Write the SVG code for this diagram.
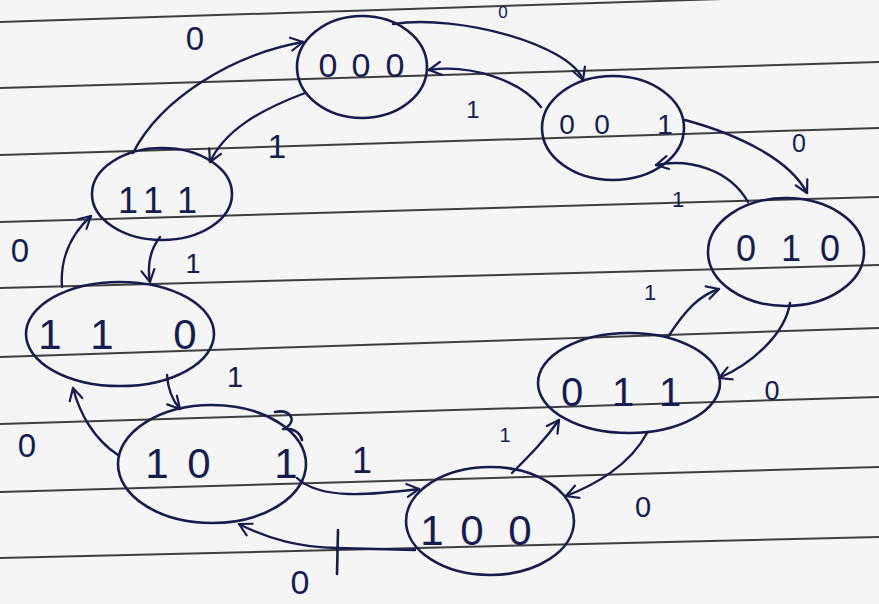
<svg xmlns="http://www.w3.org/2000/svg" width="879" height="604" viewBox="0 0 879 604">
<defs>
<style>
.rule{stroke:#3e3e3e;stroke-width:2;fill:none}
.st{fill:none;stroke:#161c4e;stroke-width:2.6;stroke-linecap:round}
.edge{fill:none;stroke:#161c4e;stroke-width:2.4;stroke-linecap:round;marker-end:url(#ah)}
.lbl{font-family:"Liberation Sans",Arial,sans-serif;fill:#161c4e;text-anchor:middle}
</style>
<marker id="ah" viewBox="0 0 16 16" refX="14" refY="8" markerWidth="16" markerHeight="16" markerUnits="userSpaceOnUse" orient="auto">
<path d="M2,1.5 L14,8 L2,14.5" fill="none" stroke="#161c4e" stroke-width="2.2" stroke-linecap="round" stroke-linejoin="round"/>
</marker>
</defs>
<rect x="0" y="0" width="879" height="604" fill="#f5f5f5"/>
<g id="paper">
<line class="rule" x1="0" y1="22" x2="879" y2="-6"/>
<line class="rule" x1="0" y1="88" x2="879" y2="62"/>
<line class="rule" x1="0" y1="155" x2="879" y2="128"/>
<line class="rule" x1="0" y1="222" x2="879" y2="197"/>
<line class="rule" x1="0" y1="288" x2="879" y2="265"/>
<line class="rule" x1="0" y1="357" x2="879" y2="328"/>
<line class="rule" x1="0" y1="424" x2="879" y2="397"/>
<line class="rule" x1="0" y1="492" x2="879" y2="467"/>
<line class="rule" x1="0" y1="558" x2="879" y2="537"/>
</g>
<g id="connectors">
<path class="edge" d="M393,24 C460,14 570,45 583,80"/>
<path class="edge" d="M541,107 C520,80 470,64 429,70"/>
<path class="edge" d="M685,120 C740,135 790,160 807,193"/>
<path class="edge" d="M748,202 C730,170 690,158 656,165"/>
<path class="edge" d="M790,303 C785,335 750,365 719,378"/>
<path class="edge" d="M668,337 C685,310 700,295 719,289"/>
<path class="edge" d="M647,433 C630,465 595,485 566,496"/>
<path class="edge" d="M512,473 C530,455 545,440 559,420"/>
<path class="edge" d="M297,478 C320,500 370,495 419,489"/>
<path class="edge" d="M415,550 L337,548 C300,547 270,540 239,524"/>
<path class="st" d="M338,530 L337,574" stroke-width="2"/>
<path class="edge" d="M167,375 C168,390 172,400 180,409"/>
<path class="edge" d="M118,455 C95,440 80,415 73,388"/>
<path class="edge" d="M160,237 C150,250 147,265 150,282"/>
<path class="edge" d="M62,287 C60,260 70,235 91,216"/>
<path class="edge" d="M305,93 C260,110 225,130 210,162"/>
<path class="edge" d="M133,153 C160,100 230,55 303,42"/>
</g>
<g id="edge-labels">
<text class="lbl" x="503" y="18" font-size="17">0</text>
<text class="lbl" x="473" y="118" font-size="24">1</text>
<text class="lbl" x="799" y="152" font-size="25">0</text>
<text class="lbl" x="678" y="207" font-size="22">1</text>
<text class="lbl" x="772" y="400" font-size="27">0</text>
<text class="lbl" x="650" y="300" font-size="22">1</text>
<text class="lbl" x="643" y="517" font-size="29">0</text>
<text class="lbl" x="505" y="442" font-size="20">1</text>
<text class="lbl" x="362" y="473" font-size="36">1</text>
<text class="lbl" x="300" y="594" font-size="34">0</text>
<text class="lbl" x="235" y="387" font-size="29">1</text>
<text class="lbl" x="27" y="457" font-size="33">0</text>
<text class="lbl" x="193" y="273" font-size="27">1</text>
<text class="lbl" x="20" y="262" font-size="33">0</text>
<text class="lbl" x="277" y="158" font-size="33">1</text>
<text class="lbl" x="195" y="50" font-size="33">0</text>
</g>
<g id="s000">
<ellipse class="st" cx="362" cy="67" rx="65" ry="51"/>
<text class="lbl" x="328 361 395" y="77" font-size="34">000</text>
</g>
<g id="s001">
<ellipse class="st" cx="613" cy="128" rx="71" ry="52"/>
<text class="lbl" x="567 602 665" y="134" font-size="28">001</text>
</g>
<g id="s010">
<ellipse class="st" cx="786" cy="252" rx="78" ry="54"/>
<text class="lbl" x="746 791 830" y="261" font-size="36">010</text>
</g>
<g id="s111">
<ellipse class="st" cx="162" cy="194" rx="70" ry="46"/>
<text class="lbl" x="128 153 187" y="213" font-size="36">111</text>
</g>
<g id="s110">
<ellipse class="st" cx="120" cy="334" rx="94" ry="52"/>
<text class="lbl" x="50 102 185" y="349" font-size="42">110</text>
</g>
<g id="s011">
<ellipse class="st" cx="629" cy="383" rx="91" ry="50"/>
<text class="lbl" x="572 623 670" y="406" font-size="40">011</text>
</g>
<g id="s101">
<ellipse class="st" cx="212" cy="464" rx="94" ry="59"/>
<path class="st" d="M275,412 C290,409 297,420 287,427 M283,429 C293,428 300,432 302,440"/>
<text class="lbl" x="157 199 286" y="478" font-size="42">101</text>
</g>
<g id="s100">
<ellipse class="st" cx="490" cy="521" rx="84" ry="54"/>
<text class="lbl" x="432 472 520" y="545" font-size="42">100</text>
</g>
</svg>
